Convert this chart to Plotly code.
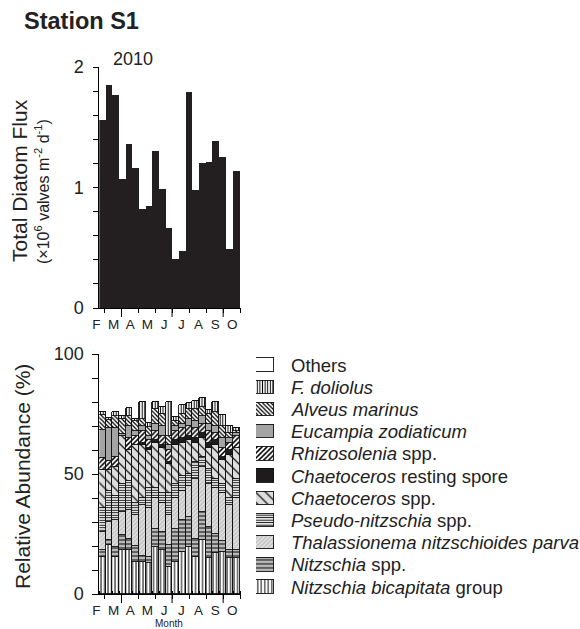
import plotly.graph_objects as go
import pandas as pd

# ---------------- data ----------------
# sediment-trap collection period boundaries (start of each cup ... end of last cup)
period_bounds = ["2010-02-20", "2010-03-04", "2010-03-16", "2010-03-28", "2010-04-09",
                 "2010-04-21", "2010-05-03", "2010-05-15", "2010-05-27", "2010-06-08",
                 "2010-06-20", "2010-07-02", "2010-07-14", "2010-07-26", "2010-08-07",
                 "2010-08-19", "2010-08-31", "2010-09-12", "2010-09-24", "2010-10-06",
                 "2010-10-19", "2010-11-01"]

# total diatom flux (x10^6 valves m-2 d-1)
total_flux = [1.56, 1.85, 1.77, 1.07, 1.36, 1.16, 0.82, 0.85, 1.30, 0.99, 0.66,
              0.41, 0.47, 1.79, 0.98, 1.20, 1.21, 1.39, 1.25, 0.49, 1.14]

month_ticks = ["2010-03-01", "2010-04-01", "2010-05-01", "2010-06-01", "2010-07-01",
               "2010-08-01", "2010-09-01", "2010-10-01", "2010-11-01"]
month_labels = ["F", "M", "A", "M", "J", "J", "A", "S", "O"]
quarter_ticks = ["2010-04-01", "2010-07-01", "2010-10-01"]

# relative abundance (%) per species, bottom of stack first
n_bicapitata = [15.5, 20.4, 15.6, 18.3, 18.3, 13.5, 13.5, 12.8, 19.7, 18.3, 11.4,
                13.5, 17.6, 19.7, 15.5, 22.5, 14.9, 17.1, 17.6, 14.9, 14.9]
nitzschia_spp = [3.0, 2.1, 3.9, 6.2, 4.7, 6.5, 2.5, 2.7, 7.3, 7.7, 9.1,
                 13.5, 13.4, 12.3, 7.5, 11.5, 13.1, 7.9, 4.4, 3.6, 3.6]
thalassionema = [7.5, 7.5, 11.5, 9.5, 12.0, 13.0, 21.0, 20.5, 13.0, 12.0, 12.5,
                 13.0, 12.0, 13.0, 25.0, 19.0, 18.0, 19.0, 20.0, 18.5, 21.5]
pseudo_nitzschia = [10.0, 13.0, 10.0, 12.0, 12.0, 5.0, 3.0, 8.0, 4.0, 4.0, 9.0,
                    6.0, 6.0, 5.0, 7.0, 4.0, 6.0, 4.0, 4.0, 3.0, 8.0]
chaetoceros_spp = [15.5, 8.5, 12.0, 20.0, 13.0, 24.0, 22.0, 16.0, 19.0, 19.0, 12.0,
                   16.0, 14.0, 14.0, 8.0, 8.0, 9.0, 14.0, 10.0, 18.0, 13.0]
chaetoceros_rs = [0.0, 0.0, 0.0, 0.0, 0.0, 0.0, 1.0, 1.0, 1.0, 1.0, 1.0,
                  2.0, 2.0, 2.0, 2.0, 2.0, 2.0, 2.0, 1.0, 2.0, 0.0]
rhizosolenia = [5.0, 4.0, 4.0, 0.0, 5.0, 4.0, 5.0, 3.0, 4.0, 4.0, 5.0,
                4.0, 4.0, 4.0, 4.0, 4.0, 5.0, 3.0, 4.0, 3.0, 5.0]
eucampia = [12.0, 13.5, 12.0, 0.5, 5.0, 2.0, 2.0, 2.0, 3.0, 4.0, 2.0,
            2.0, 2.0, 3.0, 3.0, 3.0, 3.0, 3.0, 4.0, 2.0, 1.0]
alveus = [6.0, 3.5, 5.0, 6.5, 4.0, 4.0, 3.0, 3.5, 6.0, 5.0, 4.0,
          2.0, 4.0, 4.0, 5.0, 4.0, 4.0, 6.0, 5.0, 2.0, 1.0]
f_doliolus = [1.5, 1.0, 2.0, 1.0, 3.7, 1.0, 7.0, 1.7, 3.2, 3.0, 13.9,
              1.6, 3.8, 2.5, 3.4, 3.6, 1.5, 4.2, 4.6, 2.8, 1.1]
others = [0.0, 0.0, 0.0, 0.0, 0.0, 0.0, 0.0, 0.0, 0.0, 0.0, 0.0,
          0.0, 0.0, 0.0, 0.0, 0.0, 0.0, 0.0, 0.0, 0.0, 0.0]

# legend order (top to bottom) / stack order reversed
legend_names = ["Others", "<i>F. doliolus</i>", "<i>Alveus marinus</i>",
                "<i>Eucampia zodiaticum</i>", "<i>Rhizosolenia</i> spp.",
                "<i>Chaetoceros</i> resting spore", "<i>Chaetoceros</i> spp.",
                "<i>Pseudo-nitzschia</i> spp.", "<i>Thalassionema nitzschioides parva</i>",
                "<i>Nitzschia</i> spp.", "<i>Nitzschia bicapitata</i> group"]
legend_values = [others, f_doliolus, alveus, eucampia, rhizosolenia, chaetoceros_rs,
                 chaetoceros_spp, pseudo_nitzschia, thalassionema, nitzschia_spp,
                 n_bicapitata]

# fill styles (shape, size, solidity, fg, bg)
styles = [
    ("", 4, 0.2, "black", "white"),
    ("|", 2.6, 0.38, "black", "white"),
    ("\\", 3, 0.42, "black", "white"),
    ("", 4, 0.2, "#a4a4a4", "#a4a4a4"),
    ("/", 3.5, 0.45, "black", "white"),
    ("", 4, 0.2, "#1e1b1c", "#1e1b1c"),
    ("\\", 7, 0.18, "#1a1a1a", "#dedede"),
    ("-", 2.5, 0.4, "black", "white"),
    ("/", 3, 0.3, "#efefef", "#c6c6c6"),
    ("-", 4, 0.28, "#1a1a1a", "#b8b8b8"),
    ("|", 3.5, 0.28, "black", "white"),
]

W, H = 580, 629
FONT = "Liberation Sans, Arial, sans-serif"


def px(xp):
    return xp / W


def py(yp):
    return 1 - yp / H


starts = pd.to_datetime(period_bounds[:-1])
ends = pd.to_datetime(period_bounds[1:])
widths = [(e - s).total_seconds() * 1000 for s, e in zip(starts, ends)]
xrange_ = ["2010-02-20", "2010-11-01 06:00"]

fig = go.Figure()

# ---------- top: total flux ----------
fig.add_trace(go.Bar(x=starts, y=total_flux, width=widths, offset=0,
                     marker=dict(color="#231f20", line=dict(width=0)),
                     xaxis="x", yaxis="y", showlegend=False))

# ---------- bottom: relative abundance ----------
for i in range(len(legend_names) - 1, -1, -1):
    shape, size, sol, fg, bg = styles[i]
    pat = dict(shape=shape, size=size, solidity=sol, fgcolor=fg, bgcolor=bg,
               fillmode="replace")
    fig.add_trace(go.Bar(x=starts, y=legend_values[i], width=widths, offset=0,
                         marker=dict(color=bg, pattern=pat,
                                     line=dict(color="#111111", width=0.9)),
                         xaxis="x2", yaxis="y2", showlegend=False,
                         name=legend_names[i]))

# ---------- custom legend swatches ----------
for i in range(len(legend_names)):
    shape, size, sol, fg, bg = styles[i]
    pat = dict(shape=shape, size=size, solidity=sol, fgcolor=fg, bgcolor=bg,
               fillmode="replace")
    fig.add_trace(go.Bar(x=[1], y=[i], base=0, orientation="h", width=0.6,
                         marker=dict(color=bg, pattern=pat,
                                     line=dict(color="#111111", width=0.9)),
                         xaxis="x5", yaxis="y5", showlegend=False))

xdom = [px(99.3), px(240.5)]
common_x = dict(type="date", range=xrange_, domain=xdom, showline=True,
                linecolor="black", linewidth=1, showgrid=False, zeroline=False,
                automargin=False,
                tickmode="array", tickvals=month_ticks, ticktext=month_labels,
                ticks="outside", ticklen=4, tickwidth=1, tickcolor="black",
                ticklabelshift=-8, ticklabelstandoff=0,
                tickfont=dict(size=13.5, color="#222"))

fig.update_layout(
    template="none",
    width=W, height=H, margin=dict(l=0, r=0, t=0, b=0, pad=0),
    paper_bgcolor="white", plot_bgcolor="white",
    font=dict(family=FONT, color="#222"),
    barmode="stack", bargap=0, showlegend=False,
    xaxis=dict(common_x, anchor="y"),
    yaxis=dict(domain=[py(308), py(67)], range=[0, 2], showline=True,
               linecolor="black", linewidth=1, showgrid=False, zeroline=False,
               automargin=False,
               tickmode="array", tickvals=[0, 1, 2],
               ticks="outside", ticklen=5, tickcolor="black",
               minor=dict(dtick=0.2, ticks="outside", ticklen=5, tickcolor="black",
                          showgrid=False),
               ticklabelstandoff=6, tickfont=dict(size=18, color="#222"),
               anchor="x"),
    xaxis2=dict(common_x, anchor="y2",
                minor=dict(tickmode="array", tickvals=period_bounds, ticks="inside",
                           ticklen=3, tickcolor="black", tickwidth=1, showgrid=False)),
    yaxis2=dict(domain=[py(594), py(354)], range=[0, 100], showline=True,
                linecolor="black", linewidth=1, showgrid=False, zeroline=False,
                automargin=False,
                tickmode="array", tickvals=[0, 50, 100],
                ticks="outside", ticklen=6, tickcolor="black",
                minor=dict(dtick=10, ticks="outside", ticklen=6, tickcolor="black",
                           showgrid=False),
                ticklabelstandoff=5, tickfont=dict(size=18, color="#222"),
                anchor="x2"),
    xaxis5=dict(domain=[px(256), px(274)], range=[0, 1], visible=False, anchor="y5",
                automargin=False),
    yaxis5=dict(domain=[py(598.1), py(353.9)], range=[10.5, -0.5], visible=False,
                anchor="x5", automargin=False),
)

# long quarter tick marks below both month axes
shapes = []
for q in quarter_ticks:
    shapes.append(dict(type="line", xref="x", yref="y domain", x0=q, x1=q,
                       y0=0, y1=-9 / 241, line=dict(color="black", width=1)))
    shapes.append(dict(type="line", xref="x2", yref="y2 domain", x0=q, x1=q,
                       y0=0, y1=-9 / 240, line=dict(color="black", width=1)))
fig.update_layout(shapes=shapes)

ann = []
ann.append(dict(text="<b>Station S1</b>", x=px(22), y=py(21), xref="paper", yref="paper",
                xanchor="left", yanchor="middle", showarrow=False,
                font=dict(size=23.5, color="#222")))
ann.append(dict(text="2010", x=px(133), y=py(59), xref="paper", yref="paper",
                xanchor="center", yanchor="middle", showarrow=False,
                font=dict(size=18, color="#222")))
ann.append(dict(text="Total Diatom Flux", x=px(19), y=py(181), xref="paper", yref="paper",
                xanchor="center", yanchor="middle", textangle=-90, showarrow=False,
                font=dict(size=21, color="#222")))
ann.append(dict(text="(×10<sup>6</sup> valves m<sup>-2</sup> d<sup>-1</sup>)",
                x=px(42), y=py(192), xref="paper", yref="paper",
                xanchor="center", yanchor="middle", textangle=-90, showarrow=False,
                font=dict(size=16, color="#222")))
ann.append(dict(text="Relative Abundance (%)", x=px(22), y=py(477), xref="paper",
                yref="paper", xanchor="center", yanchor="middle", textangle=-90,
                showarrow=False, font=dict(size=21, color="#222")))
ann.append(dict(text="Month", x=px(169), y=py(623.5), xref="paper", yref="paper",
                xanchor="center", yanchor="middle", showarrow=False,
                font=dict(size=10, color="#222")))
for i, name in enumerate(legend_names):
    ann.append(dict(text=name, x=px(289), y=i, xref="paper", yref="y5",
                    xanchor="left", yanchor="middle", showarrow=False,
                    font=dict(size=18.5, color="#222")))
fig.update_layout(annotations=ann)

fig.write_html("out.html")
